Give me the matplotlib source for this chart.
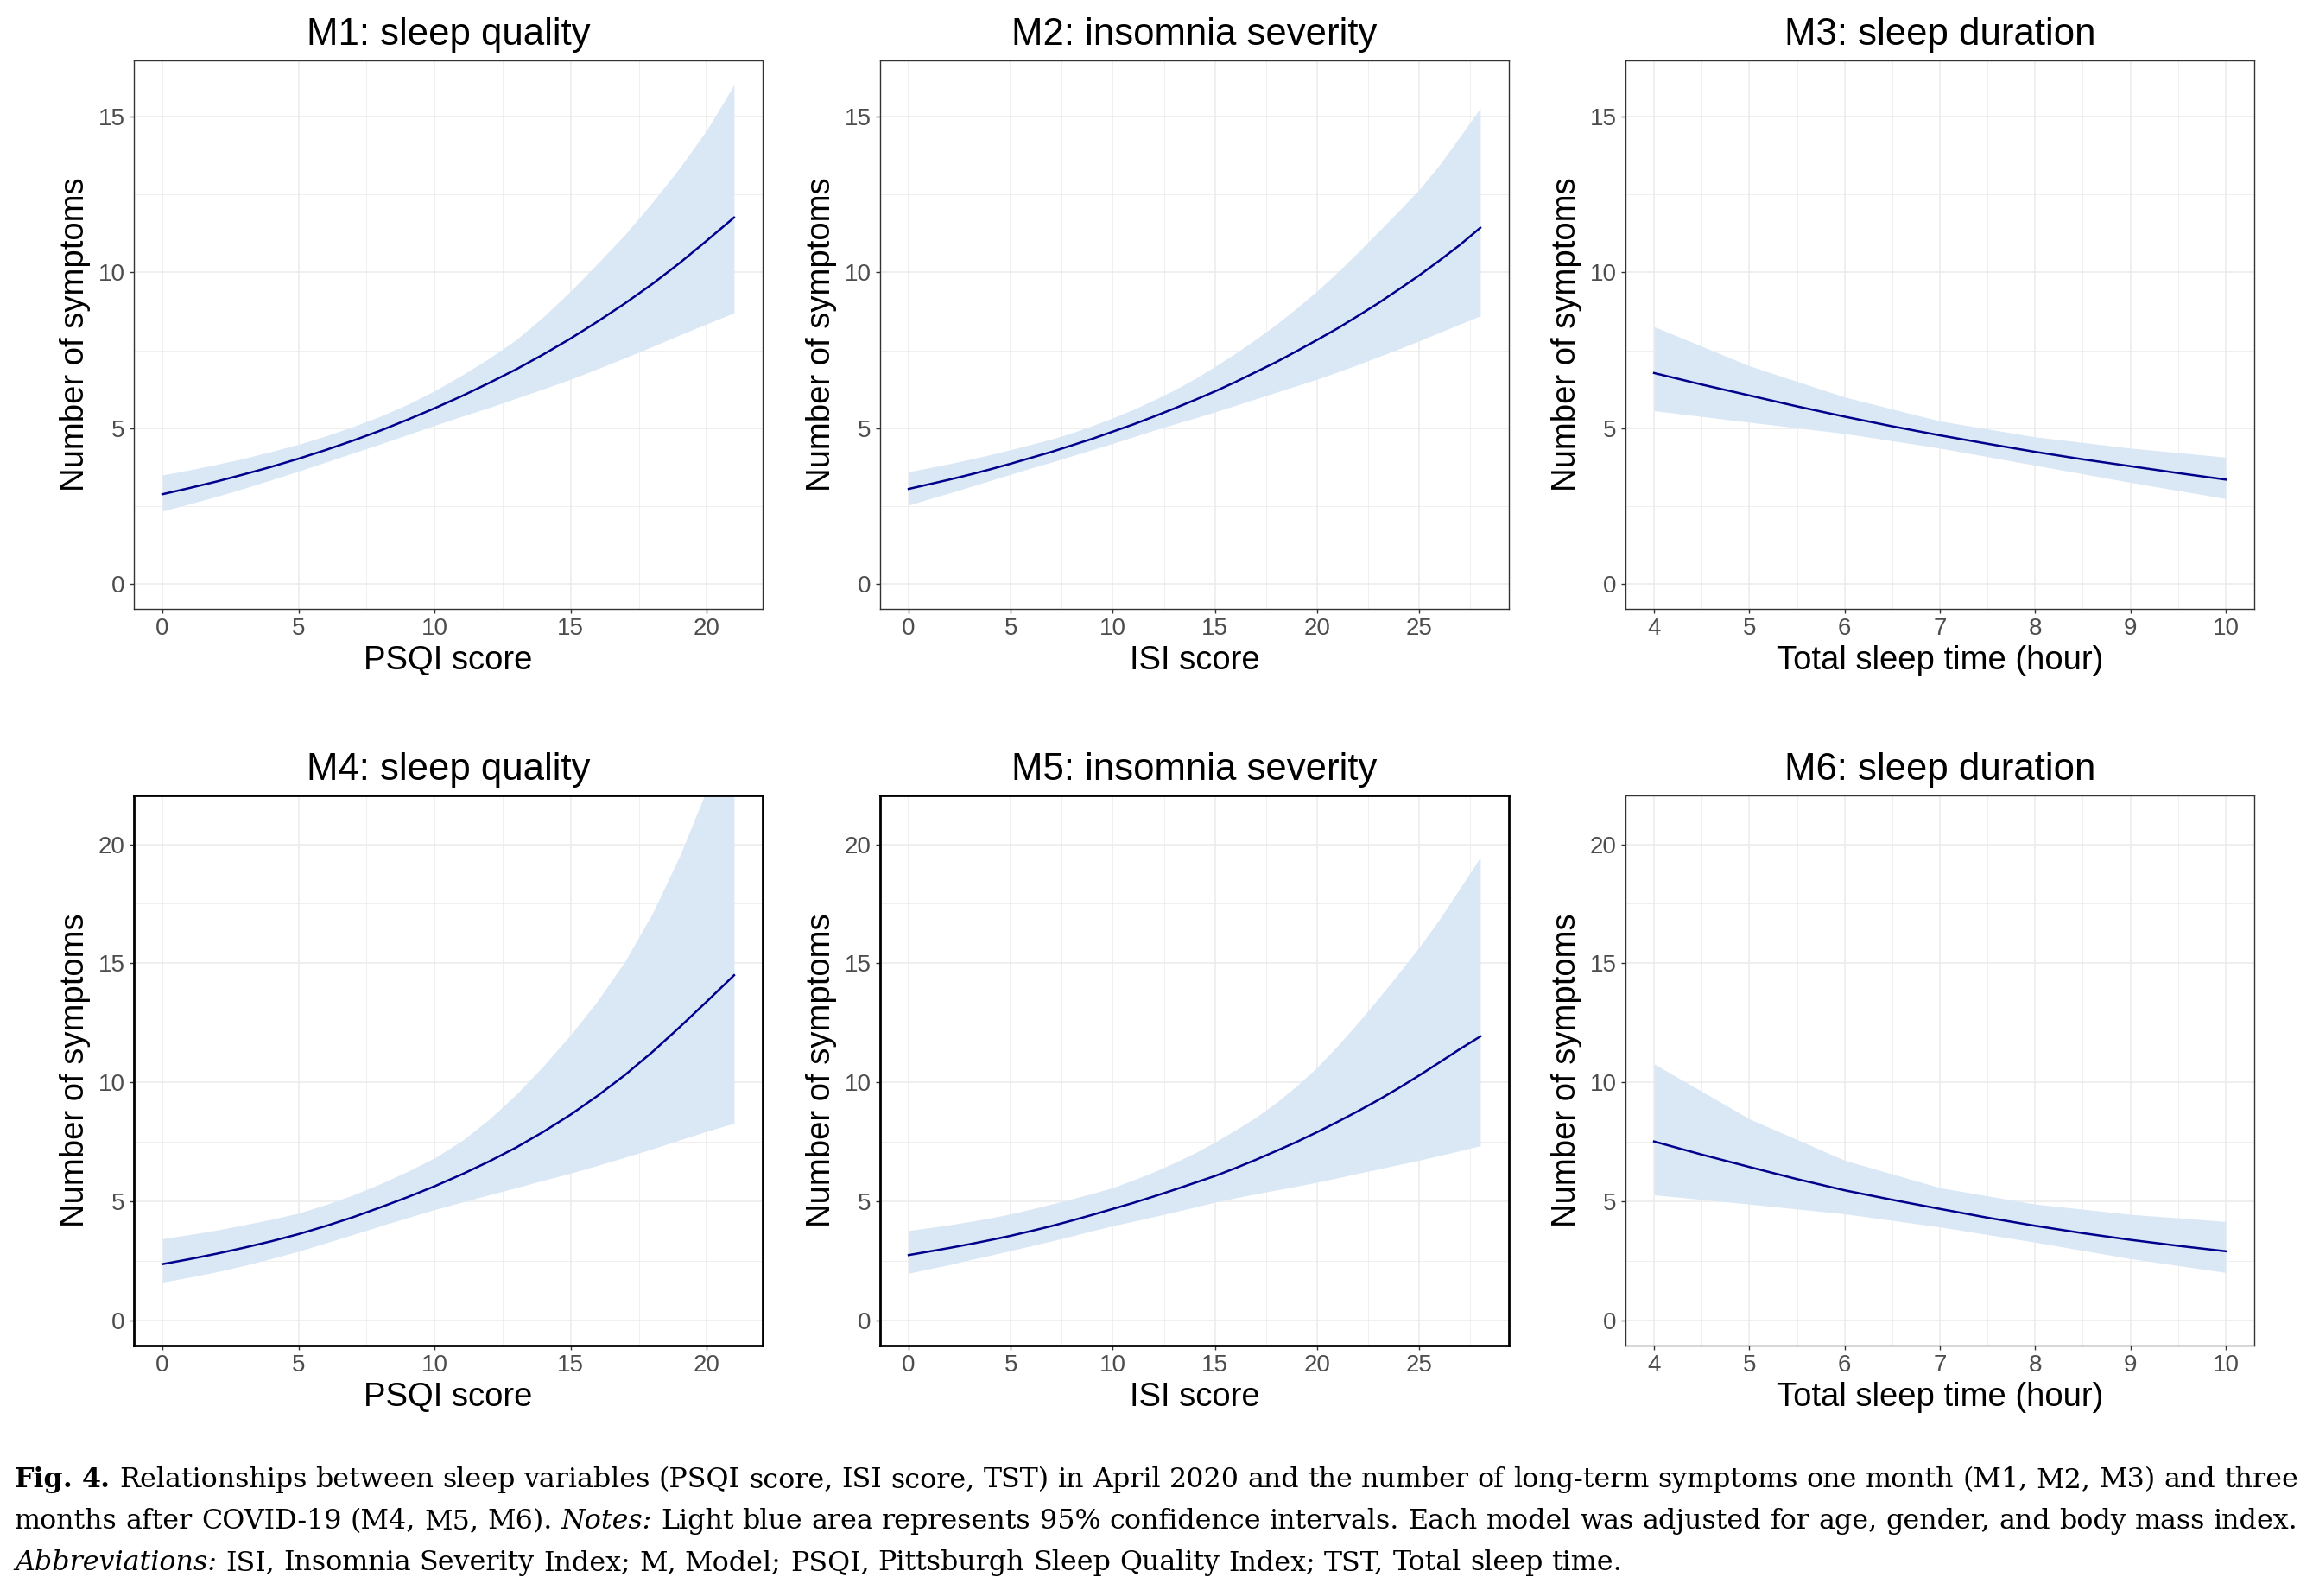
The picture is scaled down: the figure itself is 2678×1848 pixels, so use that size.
import matplotlib
matplotlib.use("Agg")
import matplotlib.pyplot as plt
from matplotlib.ticker import MultipleLocator

plt.rcParams["font.family"] = ["Liberation Sans", "DejaVu Sans"]

# -----------------------------------
# DATA
# -----------------------------------

# M1 / M4: PSQI score 0..21
psqi_x = list(range(22))
m1_fit = [2.88, 3.08, 3.29, 3.52, 3.76, 4.02, 4.30, 4.60, 4.92, 5.27, 5.64,
          6.03, 6.45, 6.89, 7.37, 7.88, 8.43, 9.01, 9.63, 10.30, 11.02, 11.76]
m1_upper = [3.50, 3.66, 3.84, 4.03, 4.25, 4.48, 4.75, 5.05, 5.38, 5.76, 6.20,
            6.70, 7.24, 7.84, 8.58, 9.40, 10.30, 11.22, 12.25, 13.35, 14.57, 16.02]
m1_lower = [2.34, 2.57, 2.81, 3.07, 3.34, 3.62, 3.91, 4.20, 4.49, 4.79, 5.09,
            5.38, 5.66, 5.96, 6.26, 6.57, 6.91, 7.26, 7.62, 7.99, 8.35, 8.70]

m4_fit = [2.37, 2.58, 2.81, 3.06, 3.33, 3.63, 3.97, 4.34, 4.75, 5.18, 5.64,
          6.14, 6.68, 7.27, 7.93, 8.65, 9.45, 10.32, 11.28, 12.32, 13.40, 14.50]
m4_upper = [3.44, 3.61, 3.80, 4.02, 4.25, 4.51, 4.87, 5.27, 5.74, 6.26, 6.83,
            7.55, 8.45, 9.50, 10.70, 12.00, 13.45, 15.10, 17.10, 19.50, 22.30, 25.40]
m4_lower = [1.61, 1.82, 2.05, 2.31, 2.60, 2.91, 3.26, 3.61, 3.97, 4.32, 4.66,
            4.97, 5.28, 5.58, 5.89, 6.19, 6.52, 6.86, 7.21, 7.58, 7.95, 8.29]

# M2 / M5: ISI score 0..28
isi_x = list(range(29))
m2_fit = [3.05, 3.20, 3.35, 3.51, 3.68, 3.86, 4.05, 4.24, 4.45, 4.66, 4.89,
          5.12, 5.37, 5.63, 5.90, 6.18, 6.48, 6.80, 7.12, 7.47, 7.83,
          8.20, 8.60, 9.01, 9.45, 9.90, 10.38, 10.88, 11.43]
m2_upper = [3.60, 3.73, 3.86, 4.00, 4.15, 4.31, 4.48, 4.65, 4.85, 5.08, 5.33,
            5.60, 5.90, 6.22, 6.58, 6.98, 7.40, 7.85, 8.33, 8.85, 9.40,
            10.00, 10.64, 11.30, 11.97, 12.65, 13.45, 14.35, 15.27]
m2_lower = [2.53, 2.73, 2.92, 3.12, 3.32, 3.52, 3.72, 3.91, 4.11, 4.31, 4.51,
            4.72, 4.93, 5.13, 5.32, 5.52, 5.73, 5.94, 6.15, 6.36, 6.57,
            6.80, 7.04, 7.29, 7.54, 7.80, 8.07, 8.34, 8.60]

m5_fit = [2.75, 2.90, 3.05, 3.21, 3.38, 3.56, 3.76, 3.97, 4.20, 4.44, 4.69,
          4.94, 5.21, 5.49, 5.78, 6.07, 6.40, 6.75, 7.12, 7.50, 7.91,
          8.34, 8.79, 9.26, 9.76, 10.29, 10.84, 11.40, 11.93]
m5_upper = [3.78, 3.90, 4.02, 4.16, 4.31, 4.48, 4.68, 4.89, 5.11, 5.34, 5.58,
            5.90, 6.24, 6.62, 7.03, 7.49, 8.00, 8.53, 9.15, 9.85, 10.63,
            11.53, 12.50, 13.52, 14.58, 15.67, 16.85, 18.15, 19.46]
m5_lower = [1.99, 2.17, 2.35, 2.55, 2.74, 2.94, 3.14, 3.34, 3.55, 3.77, 3.98,
            4.17, 4.36, 4.56, 4.76, 4.97, 5.15, 5.32, 5.48, 5.64, 5.81,
            5.99, 6.18, 6.36, 6.55, 6.73, 6.93, 7.13, 7.34]

# M3 / M6: total sleep time 4..10 h (CI at whole hours, fit every half hour)
tst_x = [4, 5, 6, 7, 8, 9, 10]
tst_fit_x = [4, 4.5, 5, 5.5, 6, 6.5, 7, 7.5, 8, 8.5, 9, 9.5, 10]
m3_fit = [6.77, 6.40, 6.05, 5.70, 5.37, 5.06, 4.77, 4.50, 4.24, 4.00, 3.78, 3.56, 3.35]
m3_upper = [8.26, 7.00, 6.00, 5.23, 4.72, 4.36, 4.07]
m3_lower = [5.56, 5.19, 4.83, 4.36, 3.81, 3.26, 2.74]

m6_fit = [7.52, 6.97, 6.45, 5.94, 5.47, 5.07, 4.69, 4.32, 3.98, 3.67, 3.39, 3.14, 2.91]
m6_upper = [10.78, 8.47, 6.73, 5.58, 4.89, 4.46, 4.16]
m6_lower = [5.28, 4.89, 4.48, 3.93, 3.29, 2.60, 2.02]

titles = ["M1: sleep quality", "M2: insomnia severity", "M3: sleep duration",
          "M4: sleep quality", "M5: insomnia severity", "M6: sleep duration"]
xlabels = ["PSQI score", "ISI score", "Total sleep time (hour)"]
ylabel = "Number of symptoms"

# -----------------------------------
# FIGURE LAYOUT
# -----------------------------------

FIG_W, FIG_H, DPI = 2678, 1848, 100
fig = plt.figure(figsize=(FIG_W / DPI, FIG_H / DPI), dpi=DPI)
fig.patch.set_facecolor("white")

col_left = [155, 1019, 1882]
col_width = 728
row_top = [70, 921]
row_height = [635, 637]
row_ymax = [16, 21]

panels = [
    (psqi_x, psqi_x, m1_fit, m1_lower, m1_upper),
    (isi_x, isi_x, m2_fit, m2_lower, m2_upper),
    (tst_x, tst_fit_x, m3_fit, m3_lower, m3_upper),
    (psqi_x, psqi_x, m4_fit, m4_lower, m4_upper),
    (isi_x, isi_x, m5_fit, m5_lower, m5_upper),
    (tst_x, tst_fit_x, m6_fit, m6_lower, m6_upper),
]
x_steps = [5, 5, 1]
border_lw = [1.0, 1.0, 1.0, 2.0, 2.0, 1.0]

GRID = "#EBEBEB"
RIBBON = "#DAE8F6"
LINE = "#00008B"

for i, (x, xf, fit, lower, upper) in enumerate(panels):
    row, col = divmod(i, 3)
    left = col_left[col] / FIG_W
    bottom = 1 - (row_top[row] + row_height[row]) / FIG_H
    ax = fig.add_axes([left, bottom, col_width / FIG_W, row_height[row] / FIG_H])

    ax.fill_between(x, lower, upper, color=RIBBON, linewidth=0, zorder=2)
    ax.plot(xf, fit, color=LINE, linewidth=1.8, zorder=3)

    # ggplot-style 5% expansion
    xr = max(x) - min(x)
    ax.set_xlim(min(x) - 0.05 * xr, max(x) + 0.05 * xr)
    ymax = row_ymax[row]
    ax.set_ylim(-0.05 * ymax, ymax * 1.05)

    ax.xaxis.set_major_locator(MultipleLocator(x_steps[col]))
    ax.xaxis.set_minor_locator(MultipleLocator(x_steps[col] / 2))
    ax.yaxis.set_major_locator(MultipleLocator(5))
    ax.yaxis.set_minor_locator(MultipleLocator(2.5))

    ax.set_axisbelow(True)
    ax.grid(which="major", color=GRID, linewidth=1.1, zorder=0)
    ax.grid(which="minor", color=GRID, linewidth=0.55, zorder=0)

    ax.tick_params(which="major", length=3.5, width=1.0, color="#333333",
                   labelsize=20, labelcolor="#4D4D4D", pad=4)
    ax.tick_params(which="minor", length=0)

    for sp in ax.spines.values():
        sp.set_color("#333333" if border_lw[i] < 1.5 else "black")
        sp.set_linewidth(border_lw[i])

    ax.set_title(titles[i], fontsize=31.5, pad=13)
    ax.set_xlabel(xlabels[col], fontsize=27.5, labelpad=4)
    ax.set_ylabel(ylabel, fontsize=27.5, labelpad=6)

# -----------------------------------
# CAPTION
# -----------------------------------

cap_lines = [
    [("Fig. 4.", "bold", "normal"),
     ("Relationships between sleep variables (PSQI score, ISI score, TST) in April 2020 "
      "and the number of long-term symptoms one month (M1, M2, M3) and three", "normal", "normal")],
    [("months after COVID-19 (M4, M5, M6).", "normal", "normal"),
     ("Notes:", "normal", "italic"),
     ("Light blue area represents 95% confidence intervals. Each model was adjusted "
      "for age, gender, and body mass index.", "normal", "normal")],
    [("Abbreviations:", "normal", "italic"),
     ("ISI, Insomnia Severity Index; M, Model; PSQI, Pittsburgh Sleep Quality Index; "
      "TST, Total sleep time.", "normal", "normal")],
]
cap_baselines = [1722, 1770, 1818]
cap_justify = [True, True, False]
cap_left, cap_right = 17, 2661

renderer = fig.canvas.get_renderer()
line_words = []
for segs in cap_lines:
    words = []
    for text, weight, style in segs:
        for w in text.split():
            t = fig.text(0, 0, w, fontsize=20, fontweight=weight, fontstyle=style,
                         family="DejaVu Serif", color="black", va="baseline")
            words.append(t)
    line_words.append(words)

# size the caption so the second line fills the width
base_size = 20.0
space_px = 0.318 * base_size * DPI / 72
w2 = sum(t.get_window_extent(renderer).width for t in line_words[1])
w2 += space_px * (len(line_words[1]) - 1)
cap_size = base_size * (cap_right - cap_left) / w2

for words, yb, just in zip(line_words, cap_baselines, cap_justify):
    for t in words:
        t.set_fontsize(cap_size)
    widths = [t.get_window_extent(renderer).width for t in words]
    if just:
        gap = (cap_right - cap_left - sum(widths)) / (len(words) - 1)
    else:
        gap = 0.318 * cap_size * DPI / 72
    xpos = cap_left
    for t, w in zip(words, widths):
        t.set_position((xpos / FIG_W, 1 - yb / FIG_H))
        xpos += w + gap

fig.savefig("out.png", dpi=DPI, facecolor="white")
